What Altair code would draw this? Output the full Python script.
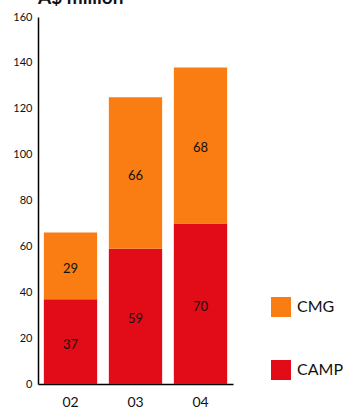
import altair as alt
import pandas as pd

years = ["02", "03", "04"]
camp = [37, 59, 70]
cmg = [29, 66, 68]
series = ["CMG", "CAMP"]
colors = ["#FA7D14", "#E20B18"]
y_ticks = [0, 20, 40, 60, 80, 100, 120, 140, 160]
title_text = ["A$ million"]

rows = []
for i, yr in enumerate(years):
    rows.append({"year": yr, "series": "CAMP", "value": camp[i], "ord": 0})
    rows.append({"year": yr, "series": "CMG", "value": cmg[i], "ord": 1})
df = pd.DataFrame(rows)

FONT = "Lato"

x_enc = alt.X("year:N", sort=years,
              scale=alt.Scale(paddingInner=0.18, paddingOuter=0.09),
              axis=alt.Axis(title=None, labelAngle=0, ticks=False, labelPadding=11,
                            labelFontSize=14, labelFont=FONT, labelColor="#111",
                            domainColor="#000", domainWidth=1.5))

bars = alt.Chart(df).mark_bar().encode(
    x=x_enc,
    y=alt.Y("value:Q", stack="zero",
            scale=alt.Scale(domain=[0, 160], nice=False),
            axis=alt.Axis(title=None, values=y_ticks, ticks=False, grid=False,
                          labelPadding=6, labelFontSize=11, labelFont=FONT,
                          labelColor="#111", domainColor="#000", domainWidth=1.5)),
    color=alt.Color("series:N",
                    scale=alt.Scale(domain=series, range=colors),
                    legend=alt.Legend(title=None, orient="none", legendX=233, legendY=280,
                                      symbolType="square", symbolSize=400,
                                      symbolStrokeWidth=0, labelFontSize=16,
                                      labelFont=FONT, labelColor="#111",
                                      labelOffset=6, rowPadding=43, padding=0)),
    order=alt.Order("ord:Q"),
)

labels = alt.Chart(df).transform_window(
    cum="sum(value)", groupby=["year"], sort=[alt.SortField("ord")]
).transform_calculate(
    mid="datum.cum - datum.value / 2"
).mark_text(fontSize=13, font=FONT, color="#111", dy=3).encode(
    x=alt.X("year:N", sort=years),
    y=alt.Y("mid:Q"),
    text="value:Q",
)

title = alt.Chart(pd.DataFrame({"t": title_text})).mark_text(
    fontSize=19, font=FONT, fontWeight="bold", color="#111",
    align="left", baseline="alphabetic"
).encode(x=alt.value(0), y=alt.value(-13), text="t:N")

chart = alt.layer(bars, labels, title).properties(
    width=195, height=367,
    autosize=alt.AutoSizeParams(type="none"),
    padding={"left": 38, "top": 17, "right": 120, "bottom": 28},
).configure_view(stroke=None)

chart.save("out.html", embed_options={"renderer": "svg", "actions": False})
